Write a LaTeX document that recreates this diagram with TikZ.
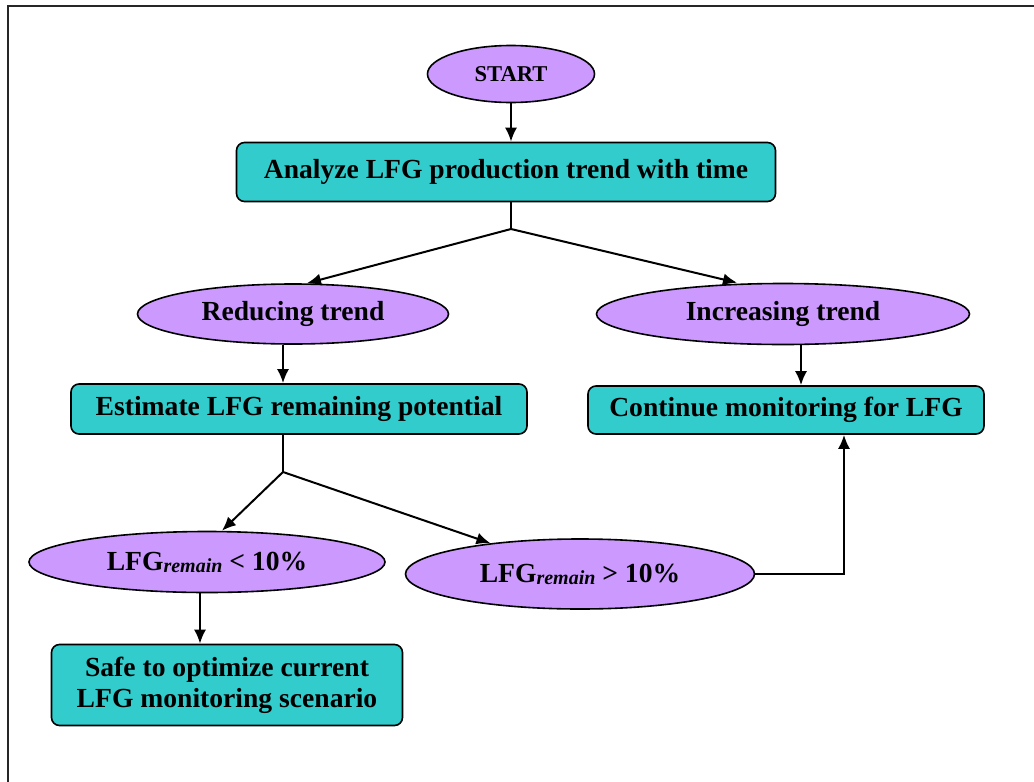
\documentclass[tikz,border=0pt]{standalone}
\usepackage{fontspec}
\setmainfont{Liberation Serif}
\usepackage{xcolor}
\usepackage{tikz}
\usetikzlibrary{shapes.geometric,arrows.meta}
\definecolor{boxteal}{RGB}{51, 204, 204}
\definecolor{ovallilac}{RGB}{204, 153, 255}
\newcommand{\lfgrem}{LFG\raisebox{-1pt}{\fontsize{10}{12}\selectfont\itshape remain}}

\begin{document}
\begin{tikzpicture}[x=0.5pt, y=-0.5pt,
    mainfont/.style={font=\fontsize{13.8}{15.5}\selectfont\bfseries},
    procbox/.style={mainfont, draw, line width=0.8pt, fill=boxteal, rounded corners=4pt, inner sep=0pt},
    ovalbox/.style={mainfont, ellipse, draw, line width=0.8pt, fill=ovallilac, inner sep=0pt},
    flow/.style={line width=1pt, -{Latex[length=7pt, width=6pt]}},
    joint/.style={line width=1pt}]
                \useasboundingbox (0,0) rectangle (1034,782);
                \draw[line width=1pt, black!85] (8,782) -- (8,6) -- (1034,6);
                % nodes
                \node[ovalbox, minimum width=167*0.5pt, minimum height=57*0.5pt,
                      font=\fontsize{11.3}{13}\selectfont\bfseries] (start) at (511,74) {START};
                \node[procbox, minimum width=539*0.5pt, minimum height=59*0.5pt] (analyze) at (506,172) {Analyze LFG production trend with time};
                \node[ovalbox, minimum width=311*0.5pt, minimum height=60*0.5pt] (reducing) at (293,314) {Reducing trend};
                \node[ovalbox, minimum width=373*0.5pt, minimum height=61*0.5pt] (increasing) at (783,314) {Increasing trend};
                \node[procbox, minimum width=456*0.5pt, minimum height=50*0.5pt] (estimate) at (299,409) {Estimate LFG remaining potential};
                \node[procbox, minimum width=396*0.5pt, minimum height=48*0.5pt] (continue) at (786,410) {Continue monitoring for LFG};
                \node[ovalbox, minimum width=356*0.5pt, minimum height=61*0.5pt] (lowrem) at (207,562) {\lfgrem{} < 10\%};
                \node[ovalbox, minimum width=349*0.5pt, minimum height=70*0.5pt] (highrem) at (580,574) {\lfgrem{} > 10\%};
                \node[procbox, minimum width=351*0.5pt, minimum height=81*0.5pt, align=center] (safe) at (227,685) {Safe to optimize current\\LFG monitoring scenario};
                % branch points
                \coordinate (j1) at (511,229);
                \coordinate (j2) at (283,472);
                \coordinate (j3) at (844,574);
                \coordinate (incout) at ([xshift=9pt]increasing.south);
                \coordinate (lowout) at ([xshift=-3.5pt]lowrem.south);
                % connectors
                \draw[flow] (start) -- (start |- analyze.north);
                \draw[joint] (j1 |- analyze.south) -- (j1);
                \draw[flow] (j1) -- ([xshift=7pt]reducing.north);
                \draw[flow] (j1) -- ([xshift=-23pt]increasing.north);
                \draw[flow] (reducing.south -| j2) -- (estimate.north -| j2);
                \draw[flow] (incout) -- (incout |- continue.north);
                \draw[joint] (estimate.south -| j2) -- (j2);
                \draw[flow] (j2) -- ([xshift=7.5pt]lowrem.north);
                \draw[flow] (j2) -- (highrem);
                \draw[flow] (lowout) -- (lowout |- safe.north);
                \draw[flow] (highrem.east) -| (j3 |- continue.south);
            \end{tikzpicture}
\end{document}
